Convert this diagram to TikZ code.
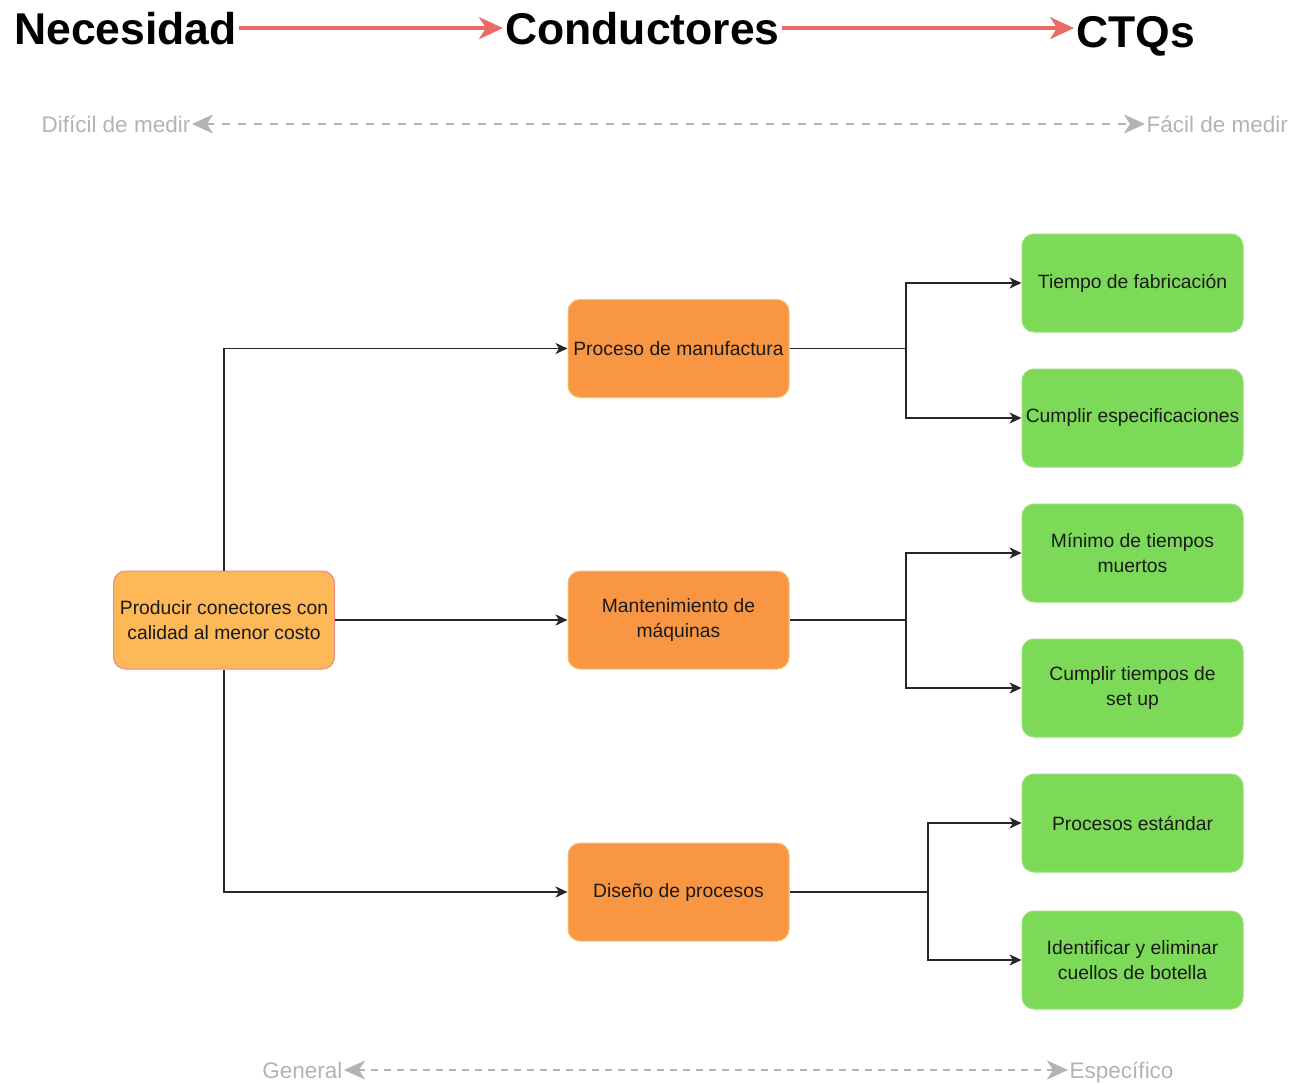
\documentclass[tikz,border=0pt]{standalone}
\usepackage{fontspec}
\setmainfont{Liberation Sans}
\usetikzlibrary{arrows.meta}
\definecolor{redarr}{HTML}{EA6B66}
\definecolor{grayarr}{HTML}{B3B3B3}
\definecolor{rootfill}{HTML}{FDB858}
\definecolor{rootdraw}{HTML}{EA8A86}
\definecolor{orfill}{HTML}{F99644}
\definecolor{ordraw}{HTML}{F7C06A}
\definecolor{grfill}{HTML}{7DDA58}
\definecolor{grdraw}{HTML}{97E07A}
\definecolor{txt}{HTML}{1A1A1A}
\tikzset{
  title/.style={font=\fontsize{44.5}{50}\selectfont\bfseries, inner sep=2pt, text=black},
  scale lbl/.style={font=\fontsize{22.5}{26}\selectfont, inner sep=1.5pt, text=grayarr},
  box/.style={rounded corners=12pt, line width=1pt, minimum width=221pt, minimum height=98pt,
              align=center, text=txt, font=\fontsize{19.3}{25}\selectfont, inner sep=2pt},
  rootbox/.style={box, fill=rootfill, draw=rootdraw},
  drvbox/.style={box, fill=orfill, draw=ordraw},
  ctqbox/.style={box, fill=grfill, draw=grdraw},
  conn/.style={line width=1.8pt, draw=black!85, -{Stealth[length=12pt,width=11pt,inset=3.5pt]}},
  plain/.style={line width=1.8pt, draw=black!85},
  redline/.style={line width=3.2pt, draw=redarr, -{Stealth[length=24pt,width=22pt,inset=7pt]}},
  grayline/.style={line width=2.2pt, draw=grayarr, dash pattern=on 8pt off 8pt,
     {Stealth[length=21pt,width=19pt,inset=6pt]}-{Stealth[length=21pt,width=19pt,inset=6pt]}}
}
\begin{document}
\begin{tikzpicture}[x=1pt,y=-1pt]
\useasboundingbox (0,0) rectangle (1298,1084);

% titles
\node[title, anchor=base west] (nec) at (12,44) {Necesidad};
\node[title, anchor=base west] (cond) at (503,44) {Conductores};
\node[title, anchor=base west] (ctq) at (1074,47) {CTQs};
\draw[redline] (nec.east) -- (nec.east -| cond.west);
\draw[redline] (cond.east) -- (cond.east -| ctq.west);

% top scale
\node[scale lbl, anchor=base east] (dif) at (192,132) {Difícil de medir};
\node[scale lbl, anchor=base west] (fac) at (1145,132) {Fácil de medir};
\draw[grayline] (dif.east |- 0,124) -- (fac.west |- 0,124);

% bottom scale
\node[scale lbl, anchor=base east] (gen) at (344,1078) {General};
\node[scale lbl, anchor=base west] (esp) at (1068,1078) {Específico};
\draw[grayline, dash pattern=on 7pt off 6pt] (gen.east |- 0,1070) -- (esp.west |- 0,1070);

% boxes
\node[rootbox] (root) at (224,620) {Producir conectores con\\calidad al menor costo};
\node[drvbox] (pm) at (678.5,348.5) {Proceso de manufactura};
\node[drvbox] (mm) at (678.5,620) {Mantenimiento de\\máquinas};
\node[drvbox] (dp) at (678.5,892) {Diseño de procesos};

\node[ctqbox] (g1) at (1132.5,283) {Tiempo de fabricación};
\node[ctqbox] (g2) at (1132.5,418) {Cumplir especificaciones};
\node[ctqbox] (g3) at (1132.5,553) {Mínimo de tiempos\\muertos};
\node[ctqbox] (g4) at (1132.5,688) {Cumplir tiempos de\\set up};
\node[ctqbox] (g5) at (1132.5,823) {Procesos estándar};
\node[ctqbox] (g6) at (1132.5,960) {Identificar y eliminar\\cuellos de botella};

% root connectors
\draw[conn] (root.north) |- (pm.west);
\draw[conn] (root.east) -- (mm.west);
\draw[conn] (root.south) |- (dp.west);

% junctions
\coordinate (j1) at (906,348.5);
\coordinate (j2) at (906,620);
\coordinate (j3) at (928,892);
\draw[plain] (pm.east) -- (j1);
\draw[conn] (j1) |- (g1.west);
\draw[conn] (j1) |- (g2.west);
\draw[plain] (mm.east) -- (j2);
\draw[conn] (j2) |- (g3.west);
\draw[conn] (j2) |- (g4.west);
\draw[plain] (dp.east) -- (j3);
\draw[conn] (j3) |- (g5.west);
\draw[conn] (j3) |- (g6.west);
\end{tikzpicture}
\end{document}
